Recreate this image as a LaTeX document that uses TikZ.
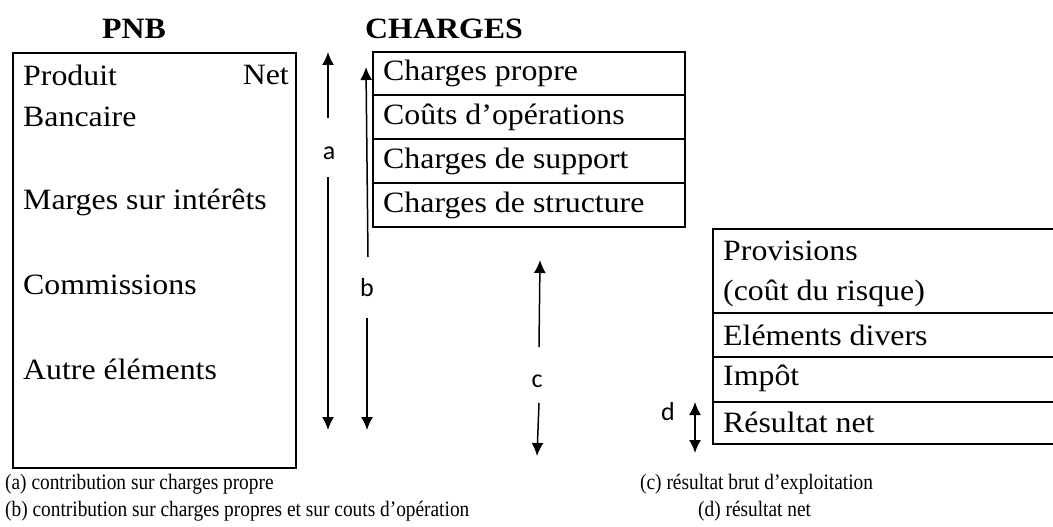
\documentclass[tikz,border=0pt]{standalone}
\usepackage{fontspec}
\setmainfont[FakeStretch=1.08]{Liberation Serif}
\newfontfamily\capfont[FakeStretch=0.88]{Liberation Serif}
\newfontfamily\lblfont{Carlito}
\usetikzlibrary{arrows.meta}
\tikzset{
  txt/.style={anchor=west, inner sep=0pt, font=\fontsize{29.5}{32}\selectfont},
  head/.style={inner sep=0pt, font=\bfseries\fontsize{29.5}{32}\selectfont},
  lbl/.style={inner sep=0pt, font=\lblfont\fontsize{26}{28}\selectfont},
  captxt/.style={anchor=west, inner sep=0pt, font=\capfont\fontsize{22}{24}\selectfont},
  arr/.style={line width=1.5pt, -{Latex[length=13pt,width=12pt]}},
  box/.style={line width=2pt},
}
\begin{document}
\begin{tikzpicture}[x=1pt, y=-1pt]
    \useasboundingbox (0, 0) rectangle (1053, 527);
    % headings
    \node[head] (pnb) at (134, 29) {PNB};
    \node[head] (chg) at (444, 29) {CHARGES};
    % PNB box
    \draw[box] (13, 53) rectangle (296, 468);
    \node[txt] (prod) at (23, 75) {Produit};
    \node[txt, anchor=east] (net) at (289, 75) {Net};
    \node[txt] (banc) at (23, 117) {Bancaire};
    \node[txt] (marg) at (23, 202) {Marges sur intérêts};
    \node[txt] (comm) at (23, 285) {Commissions};
    \node[txt] (autre) at (23, 369) {Autre éléments};
    % charges box
    \draw[box] (373, 52) rectangle (685, 227);
    \foreach \y in {95, 139, 183}
        \draw[box] (373, \y) -- (685, \y);
    \node[txt] (cp) at (383, 73) {Charges propre};
    \node[txt] (co) at (383, 117) {Coûts d’opérations};
    \node[txt] (cs) at (383, 161) {Charges de support};
    \node[txt] (cst) at (383, 205) {Charges de structure};
    % results box
    \draw[box] (1060, 229) -- (713, 229) -- (713, 444) -- (1060, 444);
    \foreach \y in {313, 357, 402}
        \draw[box] (713, \y) -- (1060, \y);
    \node[txt] (prov) at (723, 251) {Provisions};
    \node[txt] (risq) at (723, 293) {(coût du risque)};
    \node[txt] (elem) at (723, 335) {Eléments divers};
    \node[txt] (imp) at (723, 378) {Impôt};
    \node[txt] (res) at (723, 422) {Résultat net};
    % arrows
    \node[lbl] (la) at (329, 153) {a};
    \coordinate (a0) at (328, 118);
    \coordinate (a1) at (328, 52);
    \coordinate (a2) at (328, 177);
    \coordinate (a3) at (328, 430);
    \draw[arr] (a0) -- (a1);
    \draw[arr] (a2) -- (a3);
    \node[lbl] (lb) at (367, 288) {b};
    \coordinate (b0) at (368, 257);
    \coordinate (b1) at (366, 67);
    \coordinate (b2) at (367, 318);
    \coordinate (b3) at (367, 430);
    \draw[arr] (b0) -- (b1);
    \draw[arr] (b2) -- (b3);
    \node[lbl] (lc) at (537, 381) {c};
    \coordinate (c0) at (539, 347);
    \coordinate (c1) at (540, 260);
    \coordinate (c2) at (539, 403);
    \coordinate (c3) at (537, 456);
    \draw[arr] (c0) -- (c1);
    \draw[arr] (c2) -- (c3);
    \node[lbl] (ld) at (668, 412) {d};
    \coordinate (d0) at (695, 402);
    \coordinate (d1) at (695, 453);
    \draw[arr, {Latex[length=13pt,width=12pt]}-{Latex[length=13pt,width=12pt]}] (d0) -- (d1);
    % captions
    \node[captxt] (capa) at (5, 484) {(a) contribution sur charges propre};
    \node[captxt] (capb) at (5, 511) {(b) contribution sur charges propres et sur couts d’opération};
    \node[captxt] (capc) at (640, 484) {(c) résultat brut d’exploitation};
    \node[captxt] (capd) at (698, 511) {(d) résultat net};
\end{tikzpicture}
\end{document}
